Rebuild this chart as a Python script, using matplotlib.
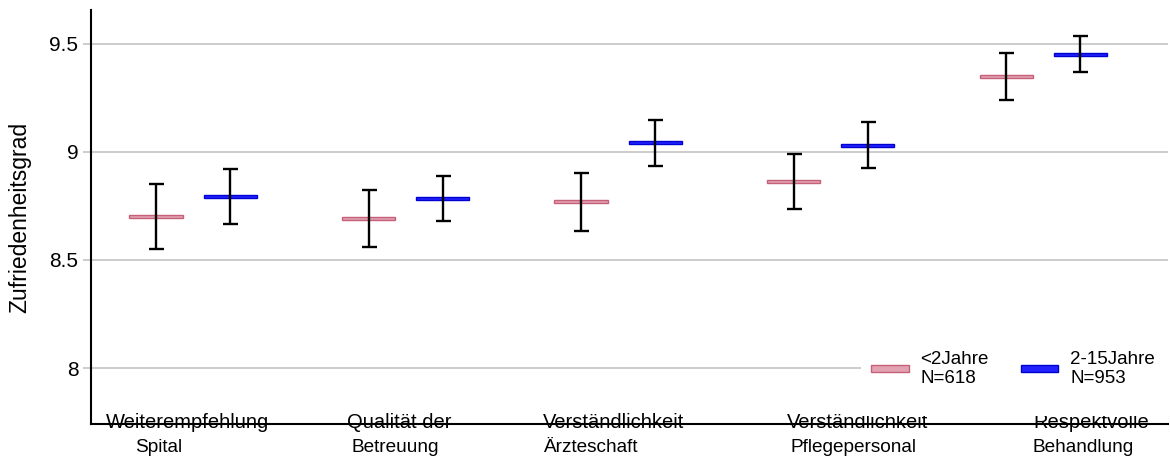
# coding: utf-8

import numpy as np
import matplotlib
matplotlib.use('Agg')
import matplotlib.pyplot as plt
from matplotlib.patches import Patch, Rectangle
from matplotlib.transforms import blended_transform_factory

# values
categories_top = ['Weiterempfehlung', 'Qualität der', 'Verständlichkeit',
                  'Verständlichkeit', 'Respektvolle']
categories_bottom = ['Spital', 'Betreuung', 'Ärzteschaft',
                     'Pflegepersonal', 'Behandlung']

mean_lt2 = [8.702, 8.693, 8.769, 8.864, 9.350]
low_lt2 = [8.551, 8.559, 8.634, 8.735, 9.242]
high_lt2 = [8.853, 8.826, 8.903, 8.992, 9.457]

mean_2_15 = [8.795, 8.784, 9.043, 9.031, 9.452]
low_2_15 = [8.667, 8.679, 8.935, 8.925, 9.370]
high_2_15 = [8.923, 8.891, 9.150, 9.137, 9.537]

series_labels = ['<2Jahre\nN=618', '2-15Jahre\nN=953']
yticks = [8, 8.5, 9, 9.5]
ytick_labels = ['8', '8.5', '9', '9.5']

# label offsets from group centre (the originals are not centred)
top_offsets = [-0.027, -0.032, -0.020, 0.124, 0.225]
bottom_offsets = [-0.164, -0.051, -0.133, 0.105, 0.187]

pink_face, pink_edge = '#E3A2B2', '#C4607A'
blue_face, blue_edge = '#2222FF', '#0000D0'

plt.rcParams['font.family'] = ['Liberation Sans', 'DejaVu Sans']

fig = plt.figure(figsize=(11.7, 4.69), dpi=100)
ax = fig.add_axes([91 / 1170, 45 / 469, 1077 / 1170, 414 / 469])

x = np.arange(len(categories_top))
off = 0.175
bar_w = 0.25
bar_h = 0.015

for xs, mean, low, high, face, edge in [
        (x - off, mean_lt2, low_lt2, high_lt2, pink_face, pink_edge),
        (x + off, mean_2_15, low_2_15, high_2_15, blue_face, blue_edge)]:
    mean = np.array(mean)
    ax.bar(xs, bar_h, width=bar_w, bottom=mean - bar_h / 2,
           color=face, edgecolor=edge, linewidth=1.0, zorder=3)
    err = [mean - np.array(low), np.array(high) - mean]
    ax.errorbar(xs, mean, yerr=err, fmt='none', ecolor='black',
                elinewidth=1.7, capsize=5.4, capthick=1.7, zorder=4)

ax.set_xlim(-0.481, 4.587)
ax.set_ylim(7.741, 9.657)
ax.set_yticks(yticks)
ax.set_yticklabels(ytick_labels, fontsize=15)
ax.set_xticks([])
ax.tick_params(axis='y', length=6, width=1.1, color='#BEBEBE', pad=3)
ax.grid(axis='y', color='#BEBEBE', linewidth=1.1, zorder=0)
ax.set_axisbelow(True)

for side in ['top', 'right']:
    ax.spines[side].set_visible(False)
for side in ['left', 'bottom']:
    ax.spines[side].set_linewidth(1.5)
    ax.spines[side].set_color('black')

trans = blended_transform_factory(ax.transData, fig.transFigure)
for i in range(len(categories_top)):
    ax.text(x[i] + top_offsets[i], 1 - 428 / 469, categories_top[i],
            transform=trans, ha='center', va='baseline', fontsize=14.5,
            clip_on=False, zorder=3)
    ax.text(x[i] + bottom_offsets[i], 1 - 452 / 469, categories_bottom[i],
            transform=trans, ha='center', va='baseline', fontsize=13.7,
            clip_on=False, zorder=3)

fig.text(20 / 1170, 1 - 217.5 / 469, 'Zufriedenheitsgrad', rotation=90,
         ha='center', va='center', fontsize=16.5)

# white legend background hides the lower grid line and the label tops
fig.patches.append(Rectangle((861 / 1170, 53 / 469), 309 / 1170, 75 / 469,
                             transform=fig.transFigure, facecolor='white',
                             edgecolor='none', zorder=4))

handles = [Patch(facecolor=pink_face, edgecolor=pink_edge, linewidth=1.0),
           Patch(facecolor=blue_face, edgecolor=blue_edge, linewidth=1.0)]
leg = fig.legend(handles, series_labels, loc='center left',
                 bbox_to_anchor=(871 / 1170, 1 - 369 / 469),
                 bbox_transform=fig.transFigure, ncol=2, frameon=False,
                 fontsize=13.5, handlelength=2.0, handleheight=0.22,
                 handletextpad=0.64, columnspacing=1.7, borderpad=0,
                 borderaxespad=0)
leg.set_zorder(5)
for t in leg.get_texts():
    t.set_linespacing(1.1)

fig.savefig('out.png', dpi=100)
